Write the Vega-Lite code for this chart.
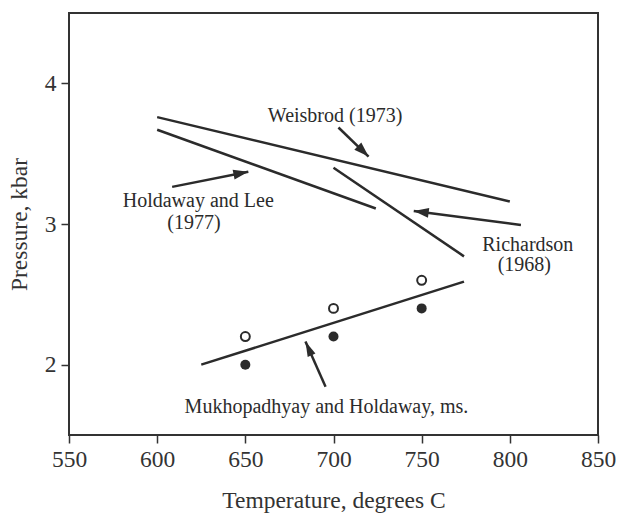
{
  "$schema": "https://vega.github.io/schema/vega-lite/v6.json",
  "width": 529,
  "height": 422,
  "autosize": {"type": "none"},
  "padding": {"left": 69, "top": 13, "right": 20, "bottom": 78},
  "background": "white",
  "config": {
    "view": {"stroke": "#333333", "strokeWidth": 2},
    "axis": {
      "grid": false,
      "domain": false,
      "labelFlush": false,
      "labelFont": "Liberation Serif",
      "labelFontSize": 23.5,
      "labelColor": "#333333",
      "tickColor": "#333333",
      "tickWidth": 1.5,
      "tickSize": 8,
      "titleFont": "Liberation Serif",
      "titleFontSize": 23.5,
      "titleFontWeight": "normal",
      "titleColor": "#333333"
    }
  },
  "datasets": {
    "lines": [
      {"series": "Weisbrod", "temp": 600, "pressure": 3.76},
      {"series": "Weisbrod", "temp": 800, "pressure": 3.16},
      {"series": "HoldawayLee", "temp": 600, "pressure": 3.67},
      {"series": "HoldawayLee", "temp": 724, "pressure": 3.11},
      {"series": "Richardson", "temp": 700, "pressure": 3.40},
      {"series": "Richardson", "temp": 774, "pressure": 2.77},
      {"series": "Mukhopadhyay", "temp": 625, "pressure": 2.0},
      {"series": "Mukhopadhyay", "temp": 774, "pressure": 2.59}
    ],
    "points": [
      {"type": "open", "temp": 650, "pressure": 2.2},
      {"type": "open", "temp": 700, "pressure": 2.4},
      {"type": "open", "temp": 750, "pressure": 2.6},
      {"type": "filled", "temp": 650, "pressure": 2.0},
      {"type": "filled", "temp": 700, "pressure": 2.2},
      {"type": "filled", "temp": 750, "pressure": 2.4}
    ],
    "arrows": [
      {"arrow": "Weisbrod", "tailT": 702.8, "tailP": 3.686, "tipT": 719.9, "tipP": 3.479},
      {"arrow": "HoldawayLee", "tailT": 608.5, "tailP": 3.264, "tipT": 651.7, "tipP": 3.371},
      {"arrow": "Richardson", "tailT": 806.3, "tailP": 2.993, "tipT": 745.5, "tipP": 3.093},
      {"arrow": "Mukhopadhyay", "tailT": 695.5, "tailP": 1.843, "tipT": 684.1, "tipP": 2.164}
    ],
    "labels": [
      {"label": "Weisbrod (1973)", "temp": 700.9, "pressure": 3.771},
      {"label": "Holdaway and Lee", "temp": 623.3, "pressure": 3.164},
      {"label": "(1977)", "temp": 620.9, "pressure": 3.007},
      {"label": "Richardson", "temp": 810.2, "pressure": 2.85},
      {"label": "(1968)", "temp": 808.2, "pressure": 2.707},
      {"label": "Mukhopadhyay and Holdaway, ms.", "temp": 696, "pressure": 1.70}
    ]
  },
  "layer": [
    {
      "data": {"name": "lines"},
      "mark": {"type": "line", "color": "#2b2b2b", "strokeWidth": 2.5},
      "encoding": {
        "x": {
          "field": "temp", "type": "quantitative",
          "scale": {"domain": [550, 850], "nice": false, "zero": false},
          "axis": {
            "values": [550, 600, 650, 700, 750, 800, 850],
            "format": "d",
            "labelPadding": 4,
            "title": "Temperature, degrees C",
            "titleY": 72,
            "titleBaseline": "alphabetic"
          }
        },
        "y": {
          "field": "pressure", "type": "quantitative",
          "scale": {"domain": [1.5, 4.5], "nice": false, "zero": false},
          "axis": {
            "values": [2, 3, 4],
            "format": "d",
            "labelPadding": 5,
            "title": "Pressure, kbar",
            "titleX": -50,
            "titleY": 211,
            "titleAlign": "center",
            "titleBaseline": "middle"
          }
        },
        "detail": {"field": "series", "type": "nominal"}
      }
    },
    {
      "data": {"name": "points"},
      "transform": [{"filter": "datum.type === 'filled'"}],
      "mark": {"type": "point", "shape": "circle", "filled": true, "size": 100, "color": "#2b2b2b", "opacity": 1},
      "encoding": {
        "x": {"field": "temp", "type": "quantitative"},
        "y": {"field": "pressure", "type": "quantitative"}
      }
    },
    {
      "data": {"name": "points"},
      "transform": [{"filter": "datum.type === 'open'"}],
      "mark": {"type": "point", "shape": "circle", "filled": false, "size": 80, "stroke": "#2b2b2b", "strokeWidth": 2, "fill": "white", "opacity": 1},
      "encoding": {
        "x": {"field": "temp", "type": "quantitative"},
        "y": {"field": "pressure", "type": "quantitative"}
      }
    },
    {
      "data": {"name": "arrows"},
      "mark": {"type": "rule", "color": "#2b2b2b", "strokeWidth": 2.5},
      "encoding": {
        "x": {"field": "tailT", "type": "quantitative"},
        "y": {"field": "tailP", "type": "quantitative"},
        "x2": {"field": "tipT"},
        "y2": {"field": "tipP"}
      }
    },
    {
      "data": {"name": "arrows"},
      "transform": [{"filter": "datum.arrow === 'Weisbrod'"}],
      "mark": {"type": "point", "shape": "M0,0L-1,3L1,3Z", "filled": true, "size": 100, "angle": 134, "color": "#2b2b2b", "opacity": 1},
      "encoding": {
        "x": {"field": "tipT", "type": "quantitative"},
        "y": {"field": "tipP", "type": "quantitative"}
      }
    },
    {
      "data": {"name": "arrows"},
      "transform": [{"filter": "datum.arrow === 'HoldawayLee'"}],
      "mark": {"type": "point", "shape": "M0,0L-1,3L1,3Z", "filled": true, "size": 100, "angle": 79, "color": "#2b2b2b", "opacity": 1},
      "encoding": {
        "x": {"field": "tipT", "type": "quantitative"},
        "y": {"field": "tipP", "type": "quantitative"}
      }
    },
    {
      "data": {"name": "arrows"},
      "transform": [{"filter": "datum.arrow === 'Richardson'"}],
      "mark": {"type": "point", "shape": "M0,0L-1,3L1,3Z", "filled": true, "size": 100, "angle": 277.5, "color": "#2b2b2b", "opacity": 1},
      "encoding": {
        "x": {"field": "tipT", "type": "quantitative"},
        "y": {"field": "tipP", "type": "quantitative"}
      }
    },
    {
      "data": {"name": "arrows"},
      "transform": [{"filter": "datum.arrow === 'Mukhopadhyay'"}],
      "mark": {"type": "point", "shape": "M0,0L-0.85,3L0.85,3Z", "filled": true, "size": 100, "angle": 336, "color": "#2b2b2b", "opacity": 1},
      "encoding": {
        "x": {"field": "tipT", "type": "quantitative"},
        "y": {"field": "tipP", "type": "quantitative"}
      }
    },
    {
      "data": {"name": "labels"},
      "mark": {"type": "text", "font": "Liberation Serif", "fontSize": 20, "color": "#2b2b2b", "align": "center", "baseline": "middle"},
      "encoding": {
        "x": {"field": "temp", "type": "quantitative"},
        "y": {"field": "pressure", "type": "quantitative"},
        "text": {"field": "label", "type": "nominal"}
      }
    }
  ]
}
